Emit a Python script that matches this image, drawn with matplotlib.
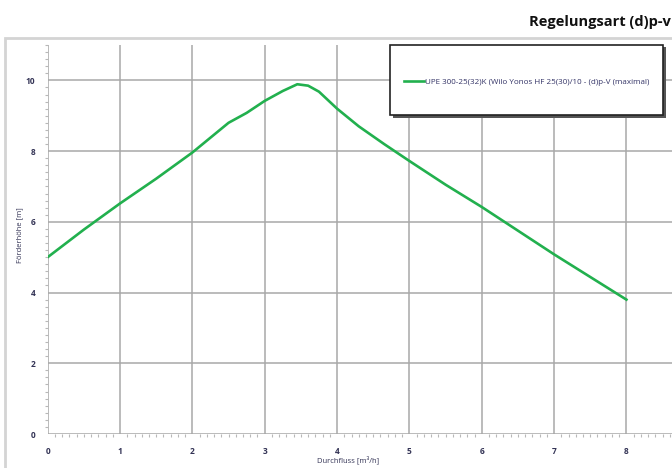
import matplotlib.pyplot as plt
from matplotlib.patches import Rectangle
from matplotlib.ticker import MultipleLocator

# Kennlinie (d)p-v maximal
flow = [0, 0.5, 1, 1.5, 2, 2.5, 2.75, 3, 3.25, 3.45, 3.6, 3.75, 4, 4.3, 4.65, 5, 5.5, 6, 6.5, 7, 7.5, 8]
head = [5.0, 5.78, 6.52, 7.22, 7.96, 8.8, 9.08, 9.42, 9.7, 9.89, 9.85, 9.68, 9.2, 8.7, 8.2, 7.72, 7.05, 6.42, 5.75, 5.08, 4.44, 3.80]
x_ticks = [0, 1, 2, 3, 4, 5, 6, 7, 8]
y_ticks = [0, 2, 4, 6, 8, 10]
series_name = "UPE 300-25(32)K (Wilo Yonos HF 25(30)/10 - (d)p-V (maximal)"

plt.rcParams['font.family'] = ['Open Sans', 'DejaVu Sans']

fig = plt.figure(figsize=(6.72, 4.68), dpi=100)
W, H = 672, 468

def fx(px):
    return px / W

def fy(py):
    return 1 - py / H

# outer gray frame
fig.patches.append(Rectangle((fx(5), fy(500)), 1.2, fy(38) - fy(500), transform=fig.transFigure,
                             fill=False, edgecolor='#d4d4d4', linewidth=2))

fig.text(fx(671), fy(22), "Regelungsart (d)p-v", ha='right', va='center',
         fontsize=10.5, fontweight='bold', color='#111111')

ax = fig.add_axes([fx(47.7), fy(434), 1 - fx(47.7), fy(45) - fy(434)])
ax.plot(flow, head, color='#22b04e', linewidth=1.9, label=series_name)
ax.set_xlim(0, 8.63)
ax.set_ylim(0, 11.0)

ax.set_xticks(x_ticks)
ax.set_yticks(y_ticks)
ax.xaxis.set_minor_locator(MultipleLocator(0.1))
ax.yaxis.set_minor_locator(MultipleLocator(0.2))
ax.grid(True, which='major', color='#a8a8a8', linewidth=1.1)
for s in ax.spines.values():
    s.set_visible(False)
ax.tick_params(which='major', length=0, labelsize=6, labelcolor='#333355', pad=9)
ax.tick_params(which='minor', length=2, color='#b8b8b8', width=0.8)
for lbl in ax.get_xticklabels() + ax.get_yticklabels():
    lbl.set_fontweight('bold')

fig.text(fx(20), fy(235), "Förderhöhe [m]", rotation=90, ha='center', va='center',
         fontsize=5.5, color='#333355')
fig.text(fx(348), fy(460), "Durchfluss [m³/h]", ha='center', va='center',
         fontsize=5.5, color='#333355')

# legend box with shadow
x0, y0, x1, y1 = 390, 45, 663, 115
fig.patches.append(Rectangle((fx(x0 + 3), fy(y1 + 2.5)), fx(x1) - fx(x0), fy(y0) - fy(y1),
                             transform=fig.transFigure, facecolor='#555555', edgecolor='none', zorder=5))
fig.patches.append(Rectangle((fx(x0), fy(y1)), fx(x1) - fx(x0), fy(y0) - fy(y1),
                             transform=fig.transFigure, facecolor='white', edgecolor='#222222',
                             linewidth=1.2, zorder=6))
leg = fig.legend(loc='center', bbox_to_anchor=(fx(527), fy(82)), frameon=False,
                 fontsize=5.8, handlelength=2.5, handletextpad=0.1)
leg.set_zorder(7)
for t in leg.get_texts():
    t.set_color('#333366')

fig.savefig("out.png", dpi=100)
